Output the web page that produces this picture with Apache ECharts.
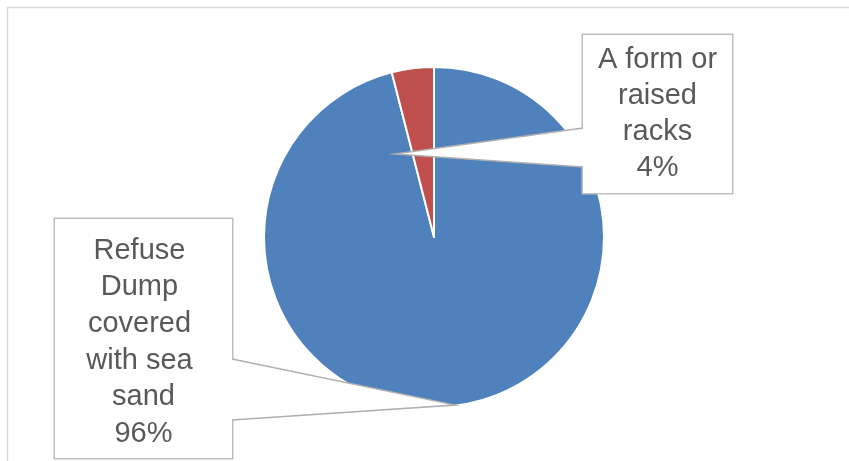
<!DOCTYPE html>
<html>
<head>
<meta charset="utf-8">
<script src="https://cdn.jsdelivr.net/npm/echarts@6/dist/echarts.min.js"></script>
<style>
html,body{margin:0;padding:0;background:#fff;overflow:hidden;}
#chart{width:849px;height:461px;}
</style>
</head>
<body>
<div id="chart"></div>
<script>
const categories = ['Refuse Dump covered with sea sand', 'A form or raised racks'];
const values = [96, 4];
const colors = ['#4F81BD', '#C0504D'];

const CX = 434, CY = 237, R = 170;

const chart = echarts.init(document.getElementById('chart'), null, {renderer: 'canvas'});

// label box placement (layout only)
const boxes = [
  {cx: 143.5, top: 219, width: 130, padding: [13.5, 23.5, 6, 23.5], lineHeight: 36.6,
   edge: 232, y1: 359, y2: 420, apex: [CX + 21, CY + 168], dir: -1},
  {cx: 657.5, top: 35, width: 125, padding: [7, 12, 7, 12], lineHeight: 36,
   edge: 583, y1: 128, y2: 167, apex: [CX - 39, CY - 83], dir: 1}
];

const graphics = [{
  type: 'rect', z: -1, silent: true,
  shape: {x: 7.5, y: 7.5, width: 900, height: 500},
  style: {fill: 'none', stroke: '#d9d9d9', lineWidth: 1.5}
}];
boxes.forEach(b => {
  const inner = b.edge + b.dir * 1.5;
  graphics.push({
    type: 'polygon', z: 100, silent: true,
    shape: {points: [[inner, b.y1], b.apex, [inner, b.y2]]},
    style: {fill: '#ffffff', stroke: null}
  });
  graphics.push({
    type: 'polyline', z: 101, silent: true,
    shape: {points: [[b.edge, b.y1], b.apex, [b.edge, b.y2]]},
    style: {fill: null, stroke: '#b0b0b0', lineWidth: 1.5}
  });
});

const option = {
  animation: false,
  backgroundColor: '#ffffff',
  graphic: graphics,
  series: [{
    type: 'pie',
    center: [CX, CY],
    radius: R,
    startAngle: 90,
    clockwise: true,
    avoidLabelOverlap: false,
    itemStyle: {borderColor: '#ffffff', borderWidth: 2},
    data: categories.map((c, i) => ({
      name: c, value: values[i],
      itemStyle: {color: colors[i]},
      label: {width: boxes[i].width, padding: boxes[i].padding, lineHeight: boxes[i].lineHeight}
    })),
    label: {
      show: true,
      position: 'outside',
      formatter: '{b}\n{c}%',
      fontFamily: 'Liberation Sans, Arial, sans-serif',
      fontSize: 29,
      color: '#595959',
      overflow: 'break',
      align: 'center',
      backgroundColor: '#ffffff',
      borderColor: '#bfbfbf',
      borderWidth: 1.5
    },
    labelLine: {show: false},
    labelLayout: function (params) {
      const b = boxes[params.dataIndex];
      return {x: b.cx, y: b.top, align: 'center', verticalAlign: 'top'};
    }
  }]
};
chart.setOption(option);
</script>
</body>
</html>
